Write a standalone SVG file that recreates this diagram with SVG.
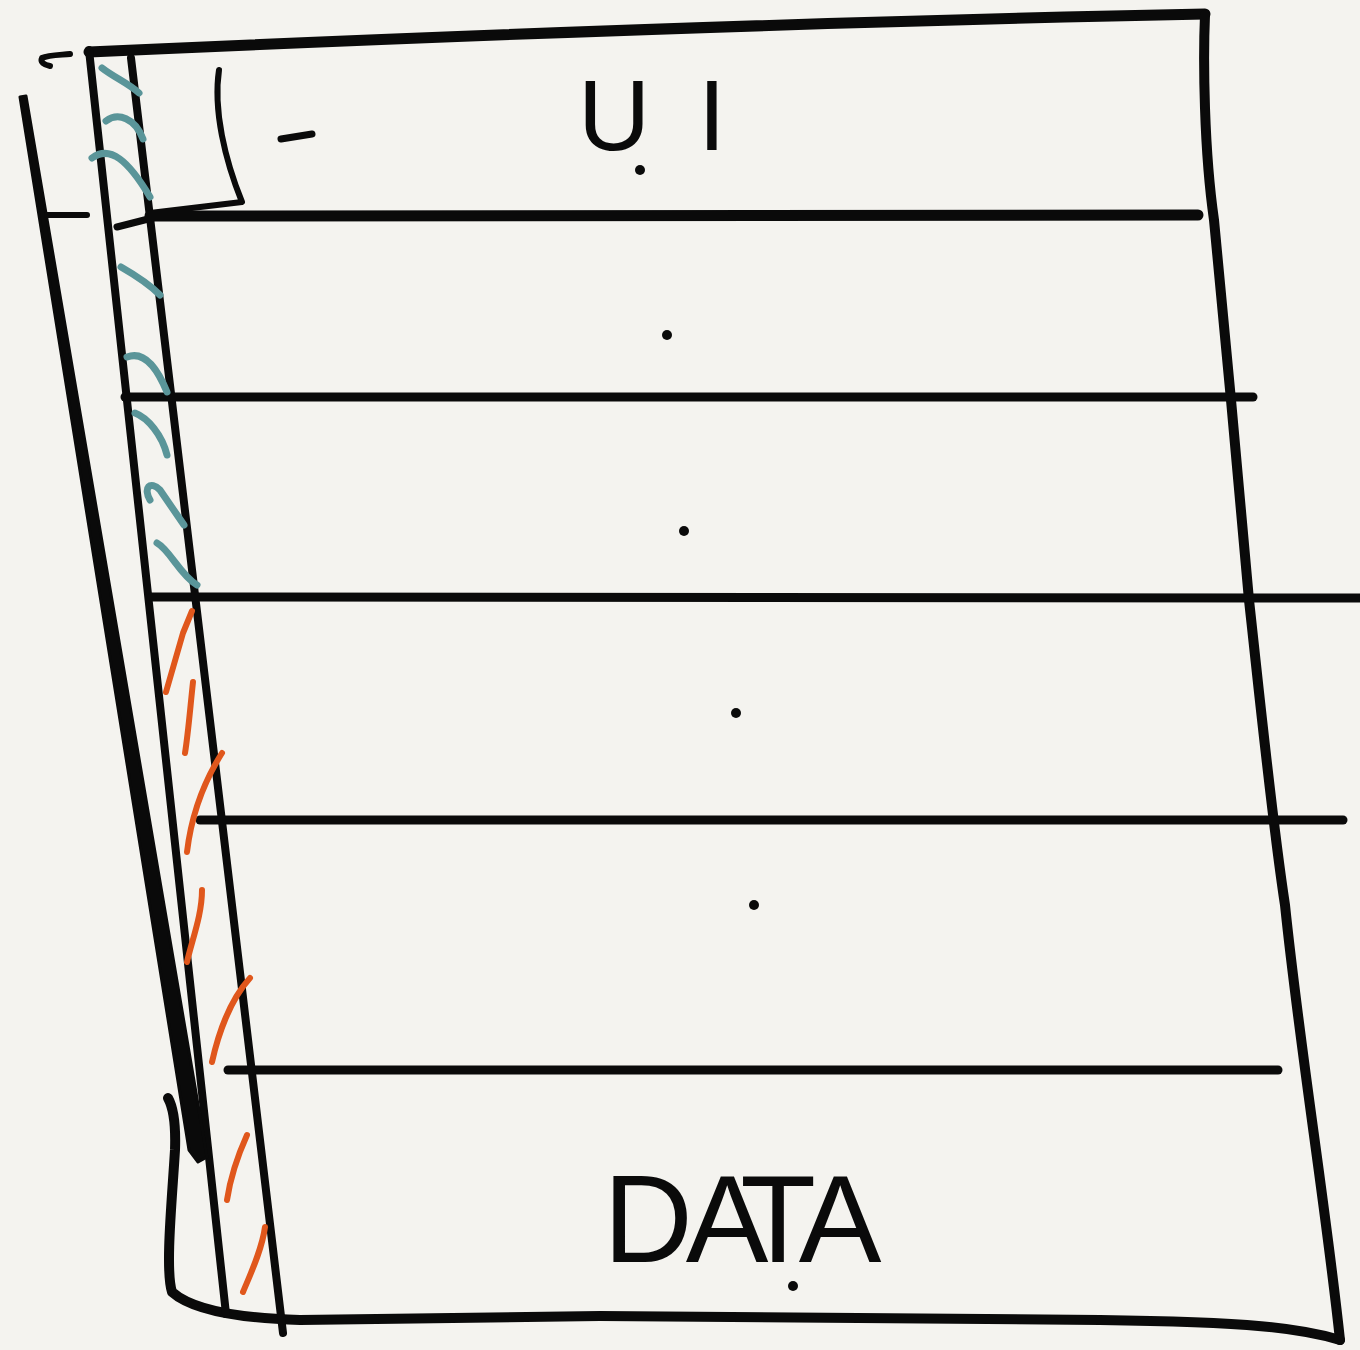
<svg xmlns="http://www.w3.org/2000/svg" width="1360" height="1350" viewBox="0 0 1360 1350">
  <style>
    .ink{fill:none;stroke:#0a0a0a;stroke-linecap:round;stroke-linejoin:round}
    .teal{fill:none;stroke:#5a9599;stroke-width:7;stroke-linecap:round;stroke-linejoin:round}
    .orange{fill:none;stroke:#e0571c;stroke-width:6;stroke-linecap:round;stroke-linejoin:round}
    .dot{fill:#0a0a0a}
    .label{font-family:"Liberation Sans","DejaVu Sans",sans-serif;fill:#0a0a0a;text-anchor:middle}
  </style>
  <rect width="1360" height="1350" fill="#f4f3ef"/>

  <g id="frame">
    <path class="ink" stroke-width="11" d="M89,52 C400,38 800,22 1205,14"/>
    <path class="ink" stroke-width="10" d="M1205,15 C1203,60 1204,150 1214,220 L1231,400 L1249,600 C1260,700 1272,820 1285,905 C1300,1050 1325,1200 1340,1340"/>
    <path class="ink" stroke-width="10" d="M1340,1340 C1300,1328 1250,1322 1100,1320 L600,1316 L300,1320 C230,1318 190,1308 172,1292 C165,1270 172,1200 175,1150 C176,1122 173,1107 168,1098"/>
    <path class="ink" stroke-width="8" d="M89,50 L226,1314"/>
    <path class="ink" stroke-width="8" d="M131,58 L283,1333"/>
    <path fill="#0a0a0a" stroke="#0a0a0a" stroke-width="3" stroke-linejoin="round" d="M20,97 L26,96 L207,1157 L198,1162 L189,1150 Z"/>
    <path class="ink" stroke-width="6" d="M70,54 C60,55 48,55 42,58 C40,62 44,65 50,66"/>
    <path class="ink" stroke-width="6" d="M47,215 L87,215"/>
  </g>

  <g id="ui-corner-box">
    <path class="ink" stroke-width="6" d="M219,70 C213,110 225,160 242,202 L150,213"/>
    <path class="ink" stroke-width="7" d="M117,227 L160,216"/>
    <path class="ink" stroke-width="7" d="M281,139 L312,134"/>
  </g>

  <g id="layer-dividers">
    <path class="ink" stroke-width="11" d="M150,216 L1198,215"/>
    <path class="ink" stroke-width="9" d="M125,397 L1253,397"/>
    <path class="ink" stroke-width="9" d="M152,597 L1362,598"/>
    <path class="ink" stroke-width="9" d="M200,820 L1343,820"/>
    <path class="ink" stroke-width="9" d="M228,1070 L1278,1070"/>
  </g>

  <g id="hatch-teal">
    <path class="teal" d="M102,68 C115,78 128,83 139,93"/>
    <path class="teal" d="M106,121 C118,112 135,118 143,139"/>
    <path class="teal" d="M92,158 C110,145 128,160 150,197"/>
    <path class="teal" d="M121,267 C135,275 150,285 160,295"/>
    <path class="teal" d="M127,357 C145,350 158,370 167,392"/>
    <path class="teal" d="M135,413 C148,418 162,435 167,455"/>
    <path class="teal" d="M150,500 C143,488 150,480 160,490 L184,525"/>
    <path class="teal" d="M157,543 C170,550 180,575 197,585"/>
  </g>

  <g id="hatch-orange">
    <path class="orange" d="M192,611 L183,633 L166,692"/>
    <path class="orange" d="M193,682 C190,710 188,735 185,753"/>
    <path class="orange" d="M222,753 C205,780 192,810 187,852"/>
    <path class="orange" d="M202,890 C202,915 192,940 187,962"/>
    <path class="orange" d="M250,978 C230,1000 218,1035 212,1062"/>
    <path class="orange" d="M247,1135 C238,1155 230,1180 227,1200"/>
    <path class="orange" d="M265,1227 C262,1250 250,1275 243,1292"/>
  </g>

  <g id="layer-ui">
    <text class="label" x="614 712" y="150" font-size="100">UI</text>
    <circle class="dot" cx="640" cy="170" r="5"/>
  </g>
  <g id="layer-2"><circle class="dot" cx="667" cy="335" r="5"/></g>
  <g id="layer-3"><circle class="dot" cx="684" cy="531" r="5"/></g>
  <g id="layer-4"><circle class="dot" cx="736" cy="713" r="5"/></g>
  <g id="layer-5"><circle class="dot" cx="754" cy="905" r="5"/></g>
  <g id="layer-data">
    <text class="label" x="648 727 778 840" y="1262" font-size="124">DATA</text>
    <circle class="dot" cx="793" cy="1286" r="5"/>
  </g>
</svg>
